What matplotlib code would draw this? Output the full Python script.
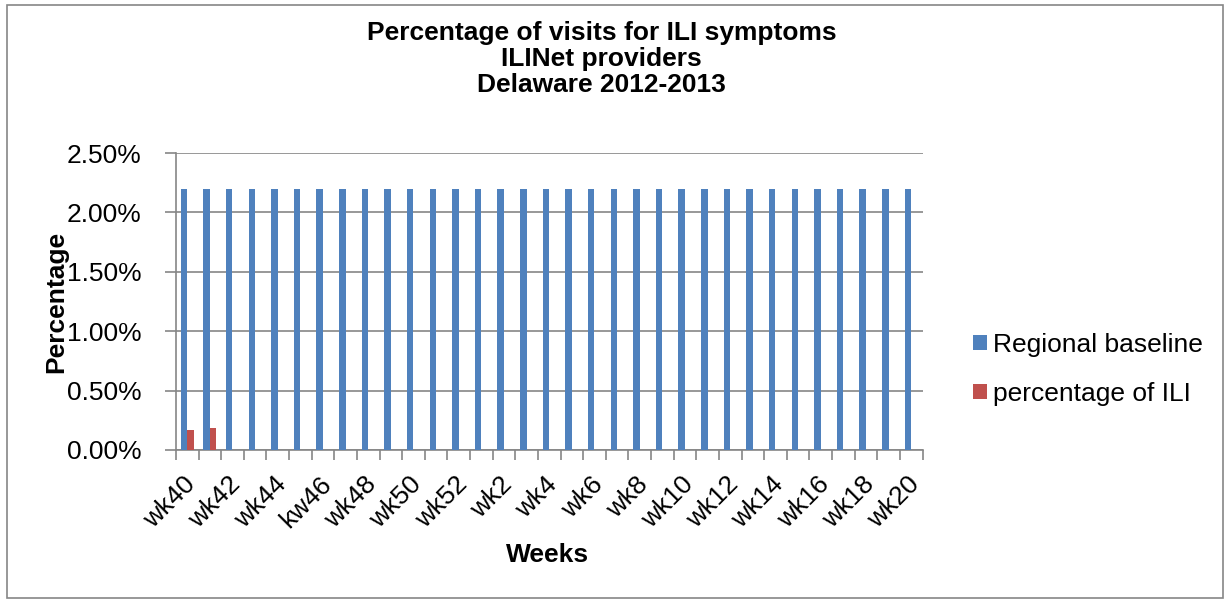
"""
Percentage of visits for ILI symptoms - Delaware 2012-2013
Grouped bar chart: regional baseline vs. percentage of ILI per week
"""

import matplotlib
matplotlib.use('Agg')
import matplotlib.pyplot as plt
from matplotlib.patches import Rectangle
from matplotlib.ticker import FuncFormatter, MultipleLocator
from matplotlib.transforms import ScaledTranslation
import numpy as np

plt.rcParams['font.family'] = ['Liberation Sans', 'DejaVu Sans']

# Weeks (category axis) - note the "kw46" label as in the source
weeks = ['wk40', 'wk41', 'wk42', 'wk43', 'wk44', 'wk45', 'kw46', 'wk47',
         'wk48', 'wk49', 'wk50', 'wk51', 'wk52', 'wk1', 'wk2', 'wk3',
         'wk4', 'wk5', 'wk6', 'wk7', 'wk8', 'wk9', 'wk10', 'wk11',
         'wk12', 'wk13', 'wk14', 'wk15', 'wk16', 'wk17', 'wk18', 'wk19',
         'wk20']

# Values in percent
regional_baseline = [2.2, 2.2, 2.2, 2.2, 2.2, 2.2, 2.2, 2.2,
                     2.2, 2.2, 2.2, 2.2, 2.2, 2.2, 2.2, 2.2,
                     2.2, 2.2, 2.2, 2.2, 2.2, 2.2, 2.2, 2.2,
                     2.2, 2.2, 2.2, 2.2, 2.2, 2.2, 2.2, 2.2,
                     2.2]
pct_ili = [0.17, 0.18, None, None, None, None, None, None,
           None, None, None, None, None, None, None, None,
           None, None, None, None, None, None, None, None,
           None, None, None, None, None, None, None, None,
           None]

series_names = ['Regional baseline', 'percentage of ILI']
colors = ['#4F81BD', '#C0504D']
grid_color = '#868686'

fig = plt.figure(figsize=(12.3, 6.03), dpi=100)
ax = fig.add_axes([0.143, 0.254, 0.607, 0.492])

x = np.arange(len(weeks))
bw = 0.29
ili_vals = np.array([np.nan if v is None else v for v in pct_ili], dtype=float)
ax.bar(x - bw / 2, regional_baseline, width=bw, color=colors[0],
       label=series_names[0], zorder=3)
ax.bar(x + bw / 2, ili_vals, width=bw, color=colors[1],
       label=series_names[1], zorder=3)

ax.set_xlim(-0.5, len(weeks) - 0.5)
ax.set_ylim(0, 2.5)
ax.yaxis.set_major_locator(MultipleLocator(0.5))
ax.yaxis.set_major_formatter(FuncFormatter(lambda v, p: f'{v:.2f}%'))
ax.yaxis.grid(True, color=grid_color, linewidth=1.2, zorder=0)

# Labels every other week, tick marks at category boundaries
ax.set_xticks(x[::2])
ax.set_xticklabels(weeks[::2], rotation=45, ha='right', rotation_mode='anchor')
ax.set_xticks(np.arange(len(weeks) + 1) - 0.5, minor=True)
ax.tick_params(axis='x', which='major', length=0, pad=16, labelsize=19)
ax.tick_params(axis='x', which='minor', length=7, color=grid_color, width=1.2)
ax.tick_params(axis='y', length=8, color=grid_color, width=1.2, labelsize=19, pad=17)
shift = ScaledTranslation(-4 / 100, 0, fig.dpi_scale_trans)
for lbl in ax.get_xticklabels():
    lbl.set_transform(lbl.get_transform() + shift)

for side in ['top', 'right']:
    ax.spines[side].set_visible(False)
for side in ['left', 'bottom']:
    ax.spines[side].set_color(grid_color)
    ax.spines[side].set_linewidth(1.2)

fig.text(56 / 1230, 0.5, 'Percentage', fontsize=19, fontweight='bold',
         ha='center', va='center', rotation=90)
fig.text(548 / 1230, 0.0796, 'Weeks', fontsize=19, fontweight='bold',
         ha='center', va='center')

fig.text(0.489, 0.966, 'Percentage of visits for ILI symptoms\nILINet providers\nDelaware 2012-2013',
         fontsize=19, fontweight='bold', ha='center', va='top', linespacing=1.13)

leg = fig.legend(loc='center left', bbox_to_anchor=(0.772, 0.388), frameon=False,
                 fontsize=19, handlelength=0.5, handleheight=0.5,
                 handletextpad=0.25, labelspacing=0.95)

# Outer chart border
fig.patches.append(Rectangle((0.006, 0.008), 0.988, 0.984, transform=fig.transFigure,
                             fill=False, edgecolor=grid_color, linewidth=1.2))

plt.savefig('out.png', dpi=100)
plt.close()
